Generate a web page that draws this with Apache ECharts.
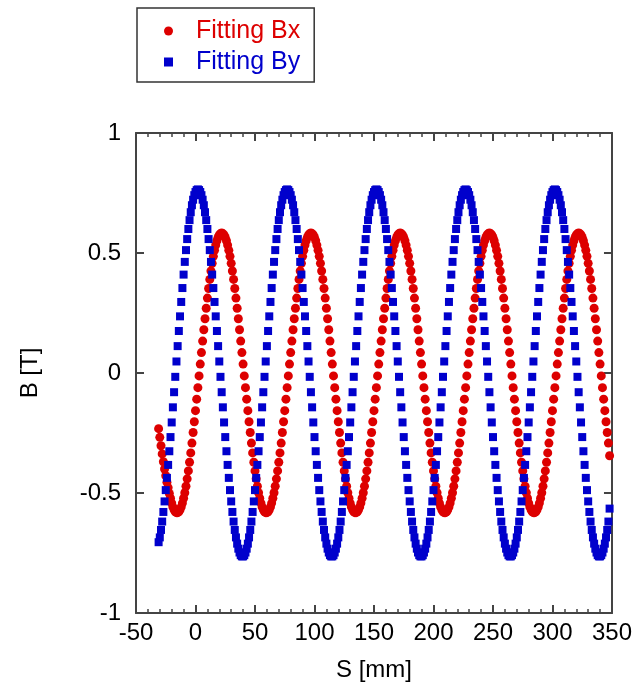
<!DOCTYPE html>
<html>
<head>
<meta charset="utf-8">
<script src="https://cdn.jsdelivr.net/npm/echarts@6/dist/echarts.min.js"></script>
<style>
	body { margin: 0; background: #fff; }
	#main { width: 635px; height: 693px; }
</style>
</head>
<body>
<div id="main"></div>
<script>
/* 位置 S [mm] */
var sPos = [
	-31,-30,-29,-28,-27,-26,-25,-24,-23,-22,-21,-20,-19,-18,-17,-16,-15,-14,-13,-12,-11,-10,-9,-8,-7,-6,-5,-4,-3,-2,-1,
	0,1,2,3,4,5,6,7,8,9,10,11,12,13,14,15,16,17,18,19,20,21,22,23,24,
	25,26,27,28,29,30,31,32,33,34,35,36,37,38,39,40,41,42,43,44,45,46,47,48,49,
	50,51,52,53,54,55,56,57,58,59,60,61,62,63,64,65,66,67,68,69,70,71,72,73,74,
	75,76,77,78,79,80,81,82,83,84,85,86,87,88,89,90,91,92,93,94,95,96,97,98,99,
	100,101,102,103,104,105,106,107,108,109,110,111,112,113,114,115,116,117,118,119,120,121,122,123,124,
	125,126,127,128,129,130,131,132,133,134,135,136,137,138,139,140,141,142,143,144,145,146,147,148,149,
	150,151,152,153,154,155,156,157,158,159,160,161,162,163,164,165,166,167,168,169,170,171,172,173,174,
	175,176,177,178,179,180,181,182,183,184,185,186,187,188,189,190,191,192,193,194,195,196,197,198,199,
	200,201,202,203,204,205,206,207,208,209,210,211,212,213,214,215,216,217,218,219,220,221,222,223,224,
	225,226,227,228,229,230,231,232,233,234,235,236,237,238,239,240,241,242,243,244,245,246,247,248,249,
	250,251,252,253,254,255,256,257,258,259,260,261,262,263,264,265,266,267,268,269,270,271,272,273,274,
	275,276,277,278,279,280,281,282,283,284,285,286,287,288,289,290,291,292,293,294,295,296,297,298,299,
	300,301,302,303,304,305,306,307,308,309,310,311,312,313,314,315,316,317,318,319,320,321,322,323,324,
	325,326,327,328,329,330,331,332,333,334,335,336,337,338,339,340,341,342,343,344,345,346,347,348
];
/* Fitting Bx [T] */
var fitBx = [
	-0.232,-0.268,-0.303,-0.337,-0.370,-0.400,-0.428,-0.455,-0.478,-0.502,-0.522,-0.542,-0.558,-0.570,-0.578,-0.582,-0.582,-0.578,-0.570,-0.558,-0.542,-0.522,-0.499,-0.472,-0.441,-0.408,-0.372,-0.333,-0.292,-0.248,-0.203,-0.157,-0.109,-0.061,-0.012,0.037,0.085,0.133,0.180,0.226,0.270,0.312,0.352,0.390,0.425,0.457,0.486,0.511,0.533,0.551,0.565,0.575,0.581,
	0.583,0.581,0.575,0.565,0.551,0.533,0.511,0.486,0.457,0.425,0.390,0.352,0.312,0.270,0.226,0.180,0.133,0.085,0.037,-0.012,-0.061,-0.109,-0.157,-0.203,-0.248,-0.292,-0.333,-0.372,-0.408,-0.441,-0.472,-0.499,-0.522,-0.542,-0.558,-0.570,-0.578,-0.582,-0.582,-0.578,-0.570,-0.558,-0.542,-0.522,-0.499,-0.472,-0.441,-0.408,-0.372,-0.333,-0.292,-0.248,-0.203,-0.157,-0.109,-0.061,-0.012,0.037,0.085,0.133,0.180,0.226,0.270,0.312,0.352,0.390,0.425,0.457,0.486,0.511,0.533,0.551,0.565,0.575,0.581,
	0.583,0.581,0.575,0.565,0.551,0.533,0.511,0.486,0.457,0.425,0.390,0.352,0.312,0.270,0.226,0.180,0.133,0.085,0.037,-0.012,-0.061,-0.109,-0.157,-0.203,-0.248,-0.292,-0.333,-0.372,-0.408,-0.441,-0.472,-0.499,-0.522,-0.542,-0.558,-0.570,-0.578,-0.582,-0.582,-0.578,-0.570,-0.558,-0.542,-0.522,-0.499,-0.472,-0.441,-0.408,-0.372,-0.333,-0.292,-0.248,-0.203,-0.157,-0.109,-0.061,-0.012,0.037,0.085,0.133,0.180,0.226,0.270,0.312,0.352,0.390,0.425,0.457,0.486,0.511,0.533,0.551,0.565,0.575,0.581,
	0.583,0.581,0.575,0.565,0.551,0.533,0.511,0.486,0.457,0.425,0.390,0.352,0.312,0.270,0.226,0.180,0.133,0.085,0.037,-0.012,-0.061,-0.109,-0.157,-0.203,-0.248,-0.292,-0.333,-0.372,-0.408,-0.441,-0.472,-0.499,-0.522,-0.542,-0.558,-0.570,-0.578,-0.582,-0.582,-0.578,-0.570,-0.558,-0.542,-0.522,-0.499,-0.472,-0.441,-0.408,-0.372,-0.333,-0.292,-0.248,-0.203,-0.157,-0.109,-0.061,-0.012,0.037,0.085,0.133,0.180,0.226,0.270,0.312,0.352,0.390,0.425,0.457,0.486,0.511,0.533,0.551,0.565,0.575,0.581,
	0.583,0.581,0.575,0.565,0.551,0.533,0.511,0.486,0.457,0.425,0.390,0.352,0.312,0.270,0.226,0.180,0.133,0.085,0.037,-0.012,-0.061,-0.109,-0.157,-0.203,-0.248,-0.292,-0.333,-0.372,-0.408,-0.441,-0.472,-0.499,-0.522,-0.542,-0.558,-0.570,-0.578,-0.582,-0.582,-0.578,-0.570,-0.558,-0.542,-0.522,-0.499,-0.472,-0.441,-0.408,-0.372,-0.333,-0.292,-0.248,-0.203,-0.157,-0.109,-0.061,-0.012,0.037,0.085,0.133,0.180,0.226,0.270,0.312,0.352,0.390,0.425,0.457,0.486,0.511,0.533,0.551,0.565,0.575,0.581,
	0.583,0.581,0.575,0.565,0.551,0.533,0.511,0.486,0.457,0.425,0.390,0.352,0.312,0.270,0.226,0.180,0.133,0.085,0.037,-0.012,-0.061,-0.109,-0.157,-0.203,-0.248,-0.292,-0.345
];
/* Fitting By [T] */
var fitBy = [
	-0.705,-0.685,-0.654,-0.619,-0.579,-0.535,-0.488,-0.437,-0.383,-0.326,-0.267,-0.206,-0.143,-0.080,-0.016,0.048,0.112,0.175,0.236,0.296,0.354,0.410,0.463,0.512,0.558,0.600,0.637,0.670,0.699,0.722,0.741,0.754,0.762,
	0.765,0.762,0.754,0.741,0.722,0.699,0.670,0.637,0.600,0.558,0.512,0.463,0.410,0.354,0.296,0.236,0.175,0.112,0.048,-0.016,-0.080,-0.143,-0.206,-0.267,-0.326,-0.383,-0.437,-0.488,-0.535,-0.579,-0.619,-0.654,-0.685,-0.711,-0.732,-0.748,-0.759,-0.764,-0.764,-0.759,-0.748,-0.732,-0.711,-0.685,-0.654,-0.619,-0.579,-0.535,-0.488,-0.437,-0.383,-0.326,-0.267,-0.206,-0.143,-0.080,-0.016,0.048,0.112,0.175,0.236,0.296,0.354,0.410,0.463,0.512,0.558,0.600,0.637,0.670,0.699,0.722,0.741,0.754,0.762,
	0.765,0.762,0.754,0.741,0.722,0.699,0.670,0.637,0.600,0.558,0.512,0.463,0.410,0.354,0.296,0.236,0.175,0.112,0.048,-0.016,-0.080,-0.143,-0.206,-0.267,-0.326,-0.383,-0.437,-0.488,-0.535,-0.579,-0.619,-0.654,-0.685,-0.711,-0.732,-0.748,-0.759,-0.764,-0.764,-0.759,-0.748,-0.732,-0.711,-0.685,-0.654,-0.619,-0.579,-0.535,-0.488,-0.437,-0.383,-0.326,-0.267,-0.206,-0.143,-0.080,-0.016,0.048,0.112,0.175,0.236,0.296,0.354,0.410,0.463,0.512,0.558,0.600,0.637,0.670,0.699,0.722,0.741,0.754,0.762,
	0.765,0.762,0.754,0.741,0.722,0.699,0.670,0.637,0.600,0.558,0.512,0.463,0.410,0.354,0.296,0.236,0.175,0.112,0.048,-0.016,-0.080,-0.143,-0.206,-0.267,-0.326,-0.383,-0.437,-0.488,-0.535,-0.579,-0.619,-0.654,-0.685,-0.711,-0.732,-0.748,-0.759,-0.764,-0.764,-0.759,-0.748,-0.732,-0.711,-0.685,-0.654,-0.619,-0.579,-0.535,-0.488,-0.437,-0.383,-0.326,-0.267,-0.206,-0.143,-0.080,-0.016,0.048,0.112,0.175,0.236,0.296,0.354,0.410,0.463,0.512,0.558,0.600,0.637,0.670,0.699,0.722,0.741,0.754,0.762,
	0.765,0.762,0.754,0.741,0.722,0.699,0.670,0.637,0.600,0.558,0.512,0.463,0.410,0.354,0.296,0.236,0.175,0.112,0.048,-0.016,-0.080,-0.143,-0.206,-0.267,-0.326,-0.383,-0.437,-0.488,-0.535,-0.579,-0.619,-0.654,-0.685,-0.711,-0.732,-0.748,-0.759,-0.764,-0.764,-0.759,-0.748,-0.732,-0.711,-0.685,-0.654,-0.619,-0.579,-0.535,-0.488,-0.437,-0.383,-0.326,-0.267,-0.206,-0.143,-0.080,-0.016,0.048,0.112,0.175,0.236,0.296,0.354,0.410,0.463,0.512,0.558,0.600,0.637,0.670,0.699,0.722,0.741,0.754,0.762,
	0.765,0.762,0.754,0.741,0.722,0.699,0.670,0.637,0.600,0.558,0.512,0.463,0.410,0.354,0.296,0.236,0.175,0.112,0.048,-0.016,-0.080,-0.143,-0.206,-0.267,-0.326,-0.383,-0.437,-0.488,-0.535,-0.579,-0.619,-0.654,-0.685,-0.711,-0.732,-0.748,-0.759,-0.764,-0.764,-0.759,-0.748,-0.732,-0.711,-0.685,-0.654,-0.619,-0.565
];
var seriesNames = ['Fitting Bx', 'Fitting By'];
var seriesColors = ['#dd0000', '#0000cc'];

var fontName = 'Liberation Sans, Arial, sans-serif';
var boxLine = { color: '#444', width: 2 };

function pairUp(vals) {
	return sPos.map(function(s, i) {
		return [ s, vals[i] ];
	});
}

var optionField = {
	animation : false,
	textStyle : { fontFamily : fontName },
	grid : { left : 136, top : 133, width : 478, height : 480 },
	legend : {
		orient : 'vertical',
		left : 137,
		top : 8,
		borderColor : '#333',
		borderWidth : 1.5,
		padding : [ 10, 14, 7, 27 ],
		itemGap : 5,
		itemWidth : 9,
		itemHeight : 9,
		textStyle : {
			fontSize : 25,
			fontFamily : fontName,
			lineHeight : 26,
			padding : [ 0, 0, 0, 18 ]
		},
		data : [ {
			name : seriesNames[0],
			icon : 'circle',
			textStyle : { color : seriesColors[0] }
		}, {
			name : seriesNames[1],
			icon : 'rect',
			textStyle : { color : seriesColors[1] }
		} ]
	},
	xAxis : [ {
		type : 'value',
		position : 'bottom',
		min : -50,
		max : 350,
		interval : 50,
		name : 'S [mm]',
		nameLocation : 'middle',
		nameGap : 45,
		nameTextStyle : { fontSize : 24, color : '#000', fontFamily : fontName },
		axisLine : { show : true, onZero : false, lineStyle : boxLine },
		axisTick : { show : true, inside : true, length : 8, lineStyle : boxLine },
		minorTick : { show : true, splitNumber : 5, length : 4, lineStyle : { color : '#444', width : 1.5 } },
		axisLabel : { fontSize : 24, color : '#000', margin : 8, fontFamily : fontName },
		splitLine : { show : false }
	}, {
		type : 'value',
		position : 'top',
		min : -50,
		max : 350,
		interval : 50,
		axisLine : { show : true, onZero : false, lineStyle : boxLine },
		axisTick : { show : true, inside : true, length : 8, lineStyle : boxLine },
		minorTick : { show : true, splitNumber : 5, length : 4, lineStyle : { color : '#444', width : 1.5 } },
		axisLabel : { show : false },
		splitLine : { show : false }
	} ],
	yAxis : [ {
		type : 'value',
		position : 'left',
		min : -1,
		max : 1,
		interval : 0.5,
		name : 'B [T]',
		nameLocation : 'middle',
		nameGap : 94,
		nameRotate : 90,
		nameTextStyle : { fontSize : 24, color : '#000', fontFamily : fontName },
		axisLine : { show : true, onZero : false, lineStyle : boxLine },
		axisTick : { show : true, inside : true, length : 8, lineStyle : boxLine },
		axisLabel : { fontSize : 24, color : '#000', margin : 15, fontFamily : fontName },
		splitLine : { show : false }
	}, {
		type : 'value',
		position : 'right',
		min : -1,
		max : 1,
		interval : 0.5,
		axisLine : { show : true, onZero : false, lineStyle : boxLine },
		axisTick : { show : true, inside : true, length : 8, lineStyle : boxLine },
		axisLabel : { show : false },
		splitLine : { show : false }
	} ],
	series : [ {
		name : seriesNames[0],
		type : 'scatter',
		symbol : 'circle',
		symbolSize : 9,
		itemStyle : { color : seriesColors[0], opacity : 1 },
		emphasis : { disabled : true },
		data : pairUp(fitBx)
	}, {
		name : seriesNames[1],
		type : 'scatter',
		symbol : 'rect',
		symbolSize : 8,
		itemStyle : { color : seriesColors[1], opacity : 1 },
		emphasis : { disabled : true },
		data : pairUp(fitBy)
	} ]
};

var myChartField = echarts.init(document.getElementById('main'));
myChartField.setOption(optionField, true);
</script>
</body>
</html>
